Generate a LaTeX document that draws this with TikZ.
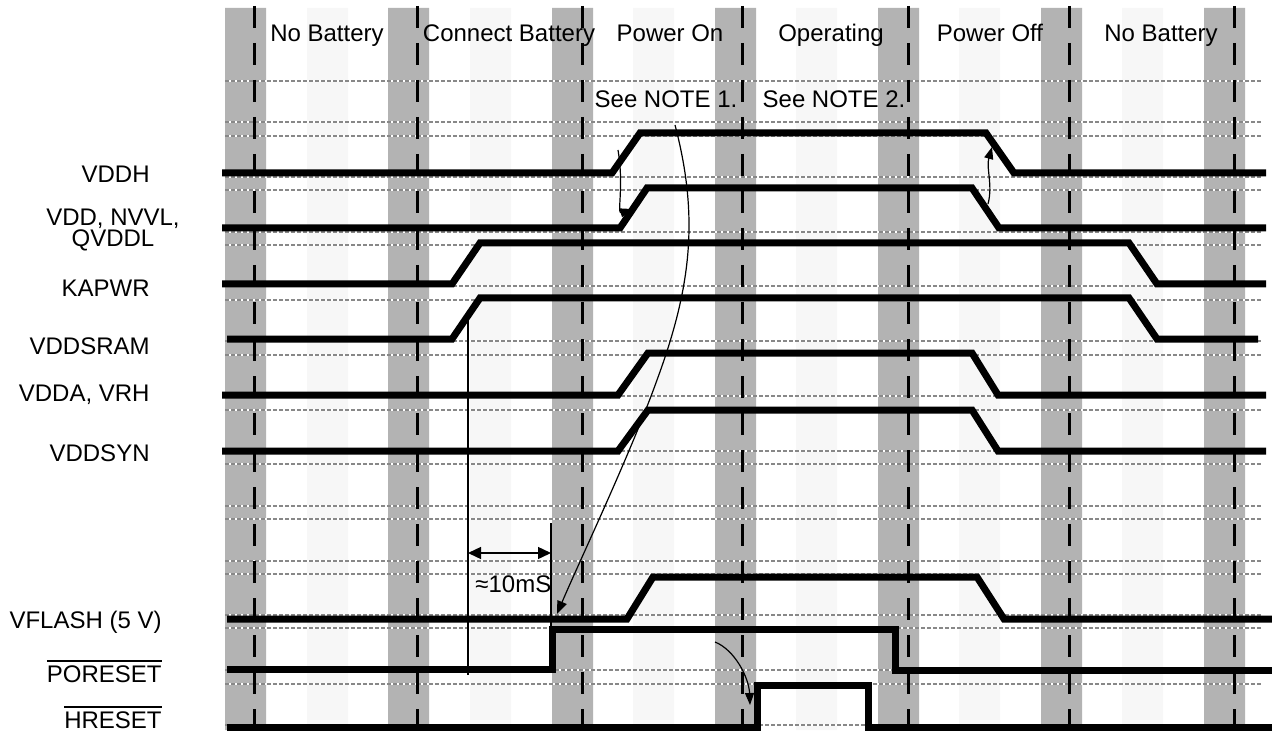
\documentclass[tikz,border=0pt]{standalone}
\usepackage{fontspec}
\setmainfont{Liberation Sans}
\usetikzlibrary{arrows.meta}
\definecolor{bandgray}{RGB}{179,179,179}
\definecolor{bandlight}{RGB}{247,247,247}
\definecolor{guidegray}{RGB}{136,136,136}
\tikzset{
  darkband/.style={fill=bandgray, draw=none},
  lightband/.style={fill=bandlight, draw=none},
  phasedash/.style={line width=1.5pt, draw=black, dash pattern=on 11pt off 7.5pt},
  guide/.style={line width=1pt, draw=guidegray, dash pattern=on 2pt off 1pt, preaction={draw=white, solid, line width=1pt}},
  trace/.style={line width=3.5pt, draw=black, line join=miter},
  callout/.style={line width=0.6pt, draw=black, -{Triangle[length=6pt, width=4.5pt]}},
  dimline/.style={line width=0.7pt, draw=black},
  siglabel/.style={anchor=base east, inner sep=0pt},
  phaselabel/.style={anchor=base, inner sep=0pt},
}
\newcommand{\barsig}[1]{\vbox{\hrule height 1pt\kern 1.5pt\hbox{#1}}}

\begin{document}
\begin{tikzpicture}[x=0.5pt, y=-0.5pt, font=\fontsize{12}{12}\selectfont]
\useasboundingbox (0,0) rectangle (1272,732);
% phase bands
\fill[darkband] (225,8) rectangle (266,730) (388,8) rectangle (429,730) (552,8) rectangle (593,730)
  (715,8) rectangle (756,730) (878,8) rectangle (919,730) (1041,8) rectangle (1082,730) (1204,8) rectangle (1245,730);
\fill[lightband] (307,8) rectangle (348,730) (470,8) rectangle (511,730) (633,8) rectangle (674,730)
  (796,8) rectangle (837,730) (959,8) rectangle (1000,730) (1122,8) rectangle (1163,730);
% level guides
\draw[guide] (225,81) -- (1262,81) (225,122) -- (1262,122) (225,136) -- (1262,136)
  (225,177) -- (1262,177) (225,190) -- (1262,190) (225,232) -- (1262,232) (225,245) -- (1262,245)
  (225,286) -- (1262,286) (225,300) -- (1262,300) (225,341) -- (1262,341) (225,355) -- (1262,355)
  (225,396) -- (1262,396) (225,410) -- (1262,410) (225,451) -- (1262,451) (225,464) -- (1262,464)
  (225,506) -- (1262,506) (225,519) -- (1262,519) (225,561) -- (1262,561) (225,574) -- (1262,574)
  (225,615) -- (1262,615) (225,628) -- (1262,628) (225,670) -- (1262,670) (225,684) -- (1262,684)
  (225,725) -- (1262,725);
\draw[phasedash] (254,6) -- (254,728) (417,6) -- (417,728) (582,6) -- (582,728) (742,6) -- (742,728)
  (908,6) -- (908,728) (1069,6) -- (1069,728) (1234,6) -- (1234,728);
% supply traces
\draw[trace] (222,173) -- (612,173) -- (640,133) -- (986,133) -- (1014,173) -- (1266,173);
\draw[trace] (222,228) -- (620,228) -- (647,188) -- (972,188) -- (999,228) -- (1266,228);
\draw[trace] (222,284) -- (452,284) -- (480,243) -- (1129,243) -- (1157,284) -- (1266,284);
\draw[trace] (227,339) -- (452,339) -- (480,298) -- (1129,298) -- (1157,339) -- (1258,339);
\draw[trace] (222,395) -- (618,395) -- (648,353) -- (972,353) -- (998,395) -- (1266,395);
\draw[trace] (222,451) -- (618,451) -- (648,410) -- (972,410) -- (998,451) -- (1266,451);
\draw[trace] (227,619) -- (627,619) -- (653,577) -- (977,577) -- (1004,619) -- (1272,619);
\draw[trace] (227,669) -- (552,669) -- (552,629) -- (895,629) -- (895,670) -- (1272,670);
\draw[trace] (227,727) -- (757,727) -- (757,685) -- (868,685) -- (868,727) -- (1272,727);
% timing callouts
\coordinate (vddhrise) at (618,150);
\coordinate (vddrise) at (632,209);
\coordinate (vddfall) at (988,204);
\coordinate (vddhfall) at (992,147);
\coordinate (note1src) at (675,125);
\coordinate (flashlow) at (557,614);
\coordinate (porhigh) at (715,642);
\coordinate (hrsrise) at (750,705);
\draw[callout] (vddhrise) .. controls (624,185) and (617,214) .. (vddrise);
\draw[callout] (vddfall) .. controls (993,185) and (986,168) .. (vddhfall);
\draw[callout, -{Triangle[length=6.5pt, width=5pt]}] (note1src) .. controls (700,220) and (690,290) .. (657,380)
  .. controls (630,455) and (580,560) .. (flashlow);
\draw[callout] (porhigh) .. controls (735,650) and (749,678) .. (hrsrise);
% delay dimension
\coordinate (dimtop) at (468,320);
\coordinate (dimbot) at (468,675);
\coordinate (dimrtop) at (551,523);
\coordinate (dimrbot) at (551,627);
\coordinate (dima) at (468,553);
\coordinate (dimb) at (551,553);
\draw[dimline] (dimtop) -- (dimbot);
\draw[dimline] (dimrtop) -- (dimrbot);
\draw[dimline, {Triangle[length=6.5pt, width=6pt]}-{Triangle[length=6.5pt, width=6pt]}] (dima) -- (dimb);
\node[phaselabel, anchor=base west] (delay) at (475,592) {≈10mS};
% phase names
\node[phaselabel] (nobat1) at (327,42) {No Battery};
\node[phaselabel] (connect) at (509,42) {Connect Battery};
\node[phaselabel] (poweron) at (670,42) {Power On};
\node[phaselabel] (operating) at (831,42) {Operating};
\node[phaselabel] (poweroff) at (990,42) {Power Off};
\node[phaselabel] (nobat2) at (1161,42) {No Battery};
\node[phaselabel] (note1) at (666,108) {See NOTE 1.};
\node[phaselabel] (note2) at (834,108) {See NOTE 2.};
% signal names
\node[siglabel] (vddh) at (150,183) {VDDH};
\node[phaselabel, align=center, font=\fontsize{12}{10.8}\selectfont] (vdd) at (113,247) {VDD, NVVL,\\QVDDL};
\node[siglabel] (kapwr) at (150,297) {KAPWR};
\node[siglabel] (vddsram) at (150,354) {VDDSRAM};
\node[siglabel] (vdda) at (150,401) {VDDA, VRH};
\node[siglabel] (vddsyn) at (150,461) {VDDSYN};
\node[siglabel] (vflash) at (162,628) {VFLASH (5 V)};
\node[siglabel] (poreset) at (162,682) {\barsig{PORESET}};
\node[siglabel] (hreset) at (162,728) {\barsig{HRESET}};
\end{tikzpicture}
\end{document}
